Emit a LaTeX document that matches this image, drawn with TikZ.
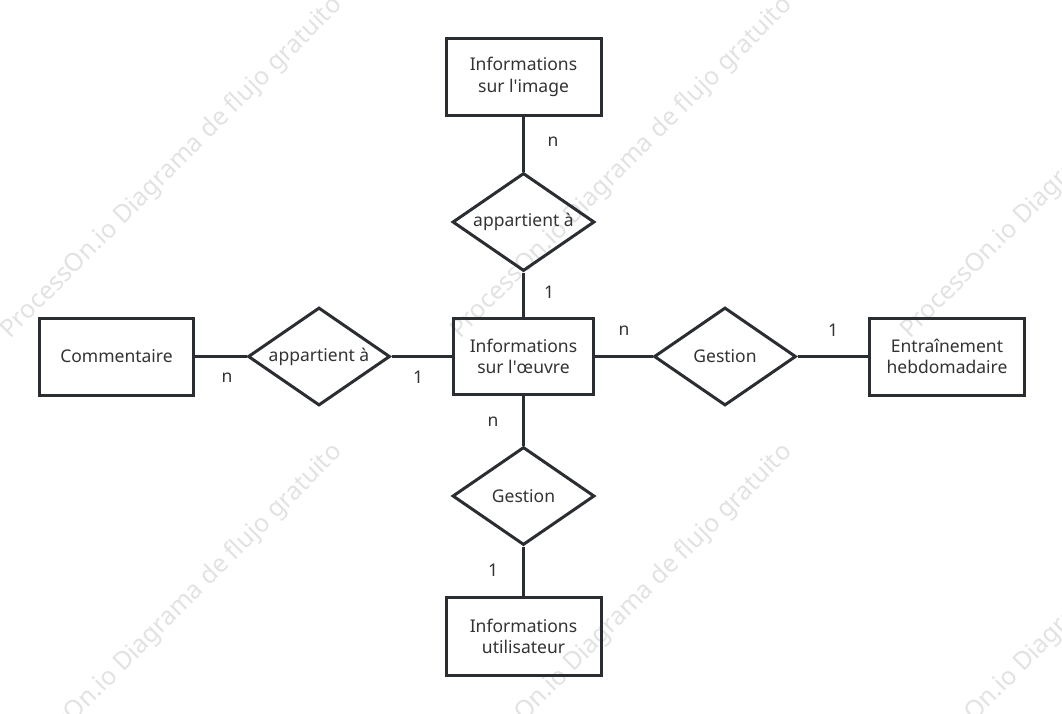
\documentclass[tikz,border=0pt]{standalone}
\usepackage{fontspec}
\setmainfont{Noto Sans}
\usetikzlibrary{shapes.geometric}
\definecolor{ln}{HTML}{2A2E33}
\definecolor{tx}{HTML}{333333}
\definecolor{wm}{HTML}{E2E2E2}
\tikzset{
  ent/.style={draw=ln, line width=3pt, rectangle, minimum width=155pt, minimum height=77pt, inner sep=0pt, align=center, text=tx, font=\fontsize{17.5}{21.5}\selectfont},
  rel/.style={draw=ln, line width=3pt, diamond, minimum width=142pt, minimum height=98pt, inner sep=0pt},
  rtext/.style={text=tx, font=\fontsize{17.5}{21.5}\selectfont},
  card/.style={text=tx, font=\fontsize{17.5}{21.5}\selectfont, inner sep=0pt},
  conn/.style={draw=ln, line width=3pt},
  wmark/.style={text=wm, rotate=45, font=\fontsize{25}{30}\selectfont, inner sep=0pt}
}
\begin{document}
\begin{tikzpicture}[x=1pt,y=-1pt]
\useasboundingbox (0,0) rectangle (1062,713);
% watermarks
\foreach \cx in {172,622,1072}{
  \node[wmark] at (\cx,168) {ProcessOn.io Diagrama de flujo gratuito};
  \node[wmark] at (\cx,615) {ProcessOn.io Diagrama de flujo gratuito};
}
% entities
\node[ent] (img) at (523.5,77) {Informations\\sur l\textquotesingle image};
\node[ent, minimum width=140pt, minimum height=76pt] (oeuvre) at (523.5,356.5) {Informations\\sur l\textquotesingle œuvre};
\node[ent, minimum width=154pt] (comm) at (116.5,356.5) {Commentaire};
\node[ent] (train) at (947,356.5) {Entraînement\\hebdomadaire};
\node[ent, minimum height=78pt] (user) at (523.5,636.5) {Informations\\utilisateur};
% relationships
\node[rel, label={[rtext]center:appartient à}] (r1) at (523.5,222) {};
\node[rel, label={[rtext]center:appartient à}] (r2) at (319,356.5) {};
\node[rel, label={[rtext]center:Gestion}] (r3) at (725,356.5) {};
\node[rel, label={[rtext]center:Gestion}] (r4) at (523.5,496) {};
% connectors
\draw[conn] (img.south) -- (r1.north);
\draw[conn] (r1.south) -- (oeuvre.north);
\draw[conn] (comm.east) -- (r2.west);
\draw[conn] (r2.east) -- (oeuvre.west);
\draw[conn] (oeuvre.east) -- (r3.west);
\draw[conn] (r3.east) -- (train.west);
\draw[conn] (oeuvre.south) -- (r4.north);
\draw[conn] (r4.south) -- (user.north);
% cardinalities
\node[card] (c1) at (553,142) {n};
\node[card] (c2) at (549,292) {1};
\node[card] (c3) at (227,378) {n};
\node[card] (c4) at (418,377) {1};
\node[card] (c5) at (624,331) {n};
\node[card] (c6) at (833,330) {1};
\node[card] (c7) at (493,422) {n};
\node[card] (c8) at (493,570) {1};
\end{tikzpicture}
\end{document}
